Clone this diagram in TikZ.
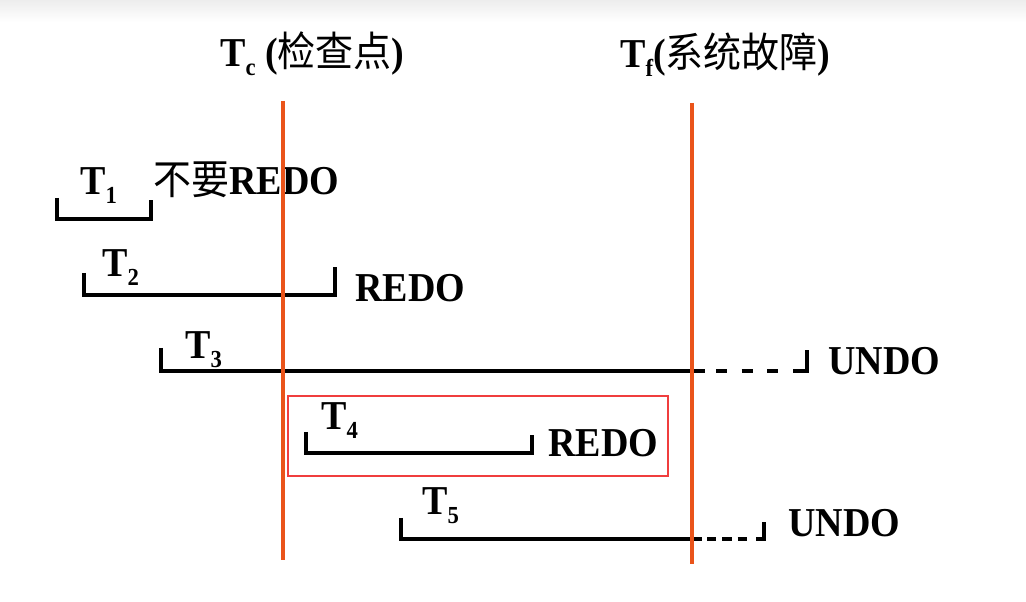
\documentclass[tikz,border=0pt]{standalone}
\usepackage{fontspec}
\setmainfont{Liberation Serif}
\newfontfamily\cjk{Noto Sans CJK SC}
\definecolor{tline}{RGB}{234,84,26}
\definecolor{boxred}{RGB}{240,62,62}
\newcommand{\lbl}{\fontsize{28.5}{30}\selectfont\bfseries}
\newcommand{\tsb}[1]{\raisebox{-6pt}{\fontsize{17}{18}\selectfont\bfseries #1}}
\newcommand{\zh}[1]{{\cjk\mdseries #1}}
\newcommand{\tall}[1]{\scalebox{1}[1.08]{#1}}
\begin{document}
\begin{tikzpicture}[x=0.75pt,y=-0.75pt,
  txt/.style={anchor=base west,inner sep=0pt,font=\lbl},
  bar/.style={line width=2.4pt,black,line join=miter},
  dashA/.style={line width=2.4pt,black,dash pattern=on 8.25pt off 10.9pt},
  dashB/.style={line width=2.4pt,black,dash pattern=on 7pt off 4.5pt},
  redline/.style={line width=2.4pt,tline},
  redbox/.style={line width=2.2pt,boxred}]
\useasboundingbox (0,0) rectangle (1026,602);
\fill[white] (0,0) rectangle (1026,602);
\shade[top color=black!7,bottom color=white] (0,0) rectangle (1026,22);

% headers
\node[txt] (tc) at (220,67) {\tall{T\tsb{c} (\zh{检查点})}};
\node[txt] (tf) at (620,68) {\tall{T\tsb{f}(\zh{系统故障})}};

% transaction labels
\node[txt] (l1) at (80,195) {\tall{T\tsb{1}}};
\node[txt] (a1) at (153,195) {\tall{\zh{不要}REDO}};
\node[txt] (l2) at (102,277) {\tall{T\tsb{2}}};
\node[txt] (a2) at (355,302) {\tall{REDO}};
\node[txt] (l3) at (185,359) {\tall{T\tsb{3}}};
\node[txt] (a3) at (828,375) {\tall{UNDO}};
\node[txt] (l4) at (321,430) {\tall{T\tsb{4}}};
\node[txt] (a4) at (548,457) {\tall{REDO}};
\node[txt] (l5) at (422,515) {\tall{T\tsb{5}}};
\node[txt] (a5) at (788,537) {\tall{UNDO}};

% red box
\draw[redbox] (288,396) rectangle (668,476);

% T1
\coordinate (b1s) at (57,198); \coordinate (b1e) at (151,219); \coordinate (b1t) at (151,200);
\draw[bar] (b1s) |- (b1e) -- (b1t);
% T2
\coordinate (b2s) at (84,273); \coordinate (b2e) at (335,295); \coordinate (b2t) at (335,267);
\draw[bar] (b2s) |- (b2e) -- (b2t);
% T3
\coordinate (b3s) at (161,348); \coordinate (b3m) at (705,371);
\coordinate (b3d1) at (716,371); \coordinate (b3d2) at (780,371);
\coordinate (b3k) at (793,371); \coordinate (b3e) at (807,371); \coordinate (b3t) at (807,350);
\draw[bar] (b3s) |- (b3m);
\draw[dashA] (b3d1) -- (b3d2);
\draw[bar] (b3k) -- (b3e) -- (b3t);
% T4
\coordinate (b4s) at (306,432); \coordinate (b4e) at (532,453); \coordinate (b4t) at (532,435);
\draw[bar] (b4s) |- (b4e) -- (b4t);
% T5
\coordinate (b5s) at (401,518); \coordinate (b5m) at (702,539);
\coordinate (b5d1) at (707,539); \coordinate (b5d2) at (747,539);
\coordinate (b5k) at (756,539); \coordinate (b5e) at (764,539); \coordinate (b5t) at (764,522);
\draw[bar] (b5s) |- (b5m);
\draw[dashB] (b5d1) -- (b5d2);
\draw[bar] (b5k) -- (b5e) -- (b5t);

% time lines
\coordinate (tctop) at (283,101); \coordinate (tcbot) at (283,560);
\coordinate (tftop) at (692,103); \coordinate (tfbot) at (692,564);
\draw[redline] (tctop) -- (tcbot);
\draw[redline] (tftop) -- (tfbot);
\end{tikzpicture}
\end{document}
